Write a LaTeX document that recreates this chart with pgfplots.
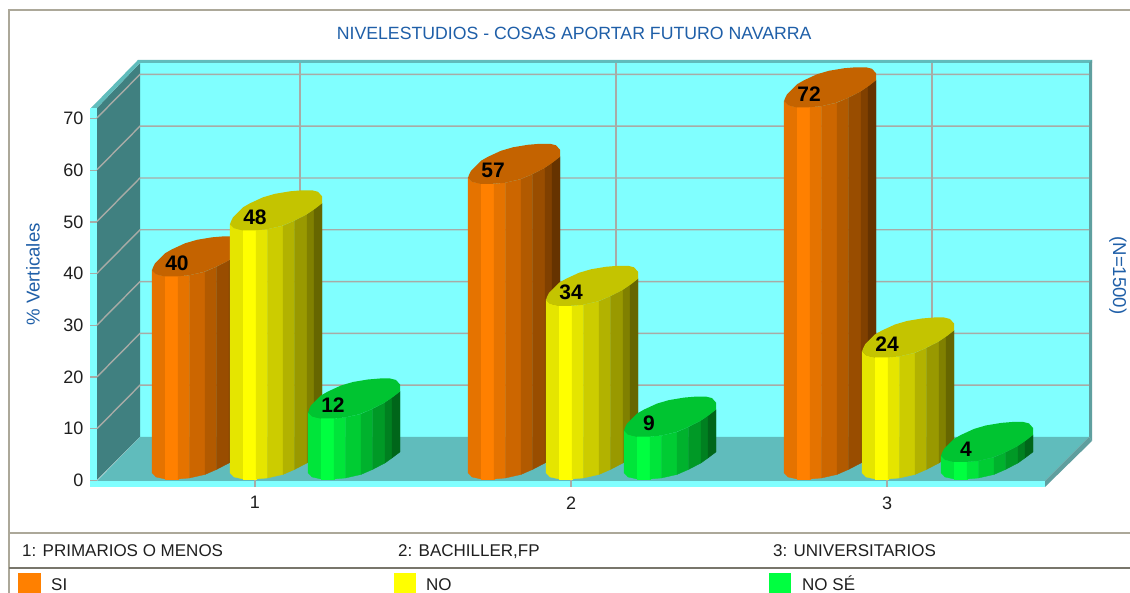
\documentclass[border=0pt]{standalone}
\usepackage{fontspec}
\setmainfont{Liberation Sans}
\usepackage{pgfplots}
\pgfplotsset{compat=1.18}

\definecolor{wallcyan}{HTML}{80FFFF}
\definecolor{floorteal}{HTML}{60BCBC}
\definecolor{sidewall}{HTML}{408080}
\definecolor{edgeteal}{HTML}{5F9F9F}
\definecolor{gridgray}{HTML}{A8ABA6}
\definecolor{framegray}{HTML}{ACA899}
\definecolor{titleblue}{HTML}{1F5FA8}
\definecolor{cSI}{HTML}{FF8000}
\definecolor{cNO}{HTML}{FFFF00}
\definecolor{cNS}{HTML}{00FF40}

% shapes are typed in reference pixels, y down from the top
\pgfplotsset{px/.style={y filter/.expression={(480.5-y)/5.17}}}
\newcommand{\panel}[2]{\addplot[px,fill=#1,draw=none] coordinates {#2} -- cycle;}
\newcommand{\pxline}[2]{\addplot[px,draw=#1,line width=1.4pt] coordinates {#2};}
\newcommand{\gridrow}[2]{\addplot[px,draw=gridgray,line width=1.4pt] coordinates {(97,#2) (140,#1) (1089,#1)};}

% one shaded band of a cylinder: left, height, colour, u0, arc0, u1, arc1
\newcommand{\band}[7]{\addplot[fill=#3,draw=#3,line width=0.3pt]
  table[row sep=\\,x expr=\thisrow{u}+#1,y expr=\thisrow{k}*#2+1.45+\thisrow{a}/5.17]
  {u a k\\ #4 #5 0\\ #4 #5 1\\ #6 #7 1\\ #6 #7 0\\} -- cycle;}

% cylinder: left edge in pixels, drawn height, base colour, printed value
\newcommand{\cyl}[4]{%
  \band{#1}{#2}{#3!90!black}{0}{0}{4}{-4}
  \band{#1}{#2}{#3!90!black}{4}{-4}{13}{-6}
  \band{#1}{#2}{#3}{13}{-6}{26}{-6}
  \band{#1}{#2}{#3!90!black}{26}{-6}{37.5}{-5}
  \band{#1}{#2}{#3!80!black}{37.5}{-5}{53}{-1.5}
  \band{#1}{#2}{#3!70!black}{53}{-1.5}{64.5}{3.5}
  \band{#1}{#2}{#3!60!black}{64.5}{3.5}{77}{10}
  \band{#1}{#2}{#3!50!black}{77}{10}{84}{15}
  \band{#1}{#2}{#3!40!black}{84}{15}{92}{21}
  \addplot[fill=#3!77!black,draw=none]
    table[row sep=\\,x expr=\thisrow{u}+#1,y expr=#2+1.45+\thisrow{a}/5.17]
    {u a\\ 0 0\\ 1 3\\ 3 7\\ 8 12\\ 13 17\\ 20 21\\ 33 27\\ 45 30.5\\ 60 33\\ 72 34\\
     82 34\\ 88 32.5\\ 92 28\\ 92 21\\ 85 15.5\\ 76 9.5\\ 63 3\\ 52 -1.5\\ 37 -5\\
     25 -6\\ 12 -6\\ 4 -4\\} -- cycle;
  \addplot[only marks,mark=none,nodes near coords,point meta=explicit symbolic]
    table[row sep=\\,meta=m,x expr=25+#1,y expr=#2+1.45+7/5.17] {m\\ #4\\};
}

\begin{document}
\begin{tikzpicture}
\useasboundingbox (0,0) rectangle (1130pt,593pt);
\fill[white] (0,0) rectangle (1130pt,593pt);
\begin{axis}[
    at={(90pt,106pt)},
    anchor=south west,
    scale only axis,
    width=955pt,
    height=378.75pt,
    xmin=90, xmax=1045,
    ymin=-1.26, ymax=72,
    clip=false,
    axis on top,
    axis line style={draw=none},
    no markers,
    xtick={255,571,887},
    xticklabels={1,2,3},
    ytick={0,10,20,30,40,50,60,70},
    xtick pos=bottom,
    ytick pos=left,
    tick align=inside,
    major tick length=7pt,
    tick style={gridgray,line width=1.4pt},
    /pgf/number format/assume math mode=true,
    tick label style={font=\fontsize{18}{21}\selectfont,text=black!88},
    xticklabel style={yshift=-6pt},
    yticklabel style={xshift=-3pt},
    title={NIVELESTUDIOS - COSAS APORTAR FUTURO NAVARRA},
    every axis title/.style={at={(rel axis cs:0.507,1)},anchor=center,yshift=75pt,
      font=\fontsize{17.7}{20}\selectfont,text=titleblue},
    ylabel={\% Verticales},
    every axis y label/.style={at={(rel axis cs:0,0.561)},xshift=-57pt,rotate=90,anchor=center,
      font=\fontsize{18.6}{22}\selectfont,text=titleblue},
    every node near coord/.style={anchor=center,font=\fontsize{21}{25}\selectfont\bfseries,text=black},
]
% room
\panel{wallcyan}{(140,63) (1089,63) (1089,437) (140,437)}
\panel{sidewall}{(97,108) (140,63) (140,437) (97,480)}
\panel{floorteal}{(97,481) (140,437) (1089,437) (1045,481)}
\panel{floorteal}{(91,108) (138,60) (1092,60) (1092,63) (140,63) (97,108)}
\panel{edgeteal}{(1089,63) (1092,60) (1092,441) (1089,437)}
\panel{edgeteal}{(1045,481) (1089,437) (1092,441) (1045,487)}
\panel{wallcyan}{(90,108) (97,108) (97,487) (90,487)}
\panel{wallcyan}{(90,481) (1045,481) (1045,487) (90,487)}
% grid
\gridrow{385.2}{428.7}
\gridrow{333.4}{376.9}
\gridrow{281.6}{325.1}
\gridrow{229.8}{273.3}
\gridrow{178.0}{221.5}
\gridrow{126.2}{169.7}
\gridrow{74.4}{117.9}
\pxline{gridgray}{(300,63) (300,437)}
\pxline{gridgray}{(616,63) (616,437)}
\pxline{gridgray}{(932,63) (932,437)}
% cylinders: heights, labels as printed
\cyl{152}{39.2}{cSI}{40}
\cyl{230}{48.1}{cNO}{48}
\cyl{308}{11.7}{cNS}{12}
\cyl{468}{57.1}{cSI}{57}
\cyl{546}{33.5}{cNO}{34}
\cyl{624}{8.2}{cNS}{9}
\cyl{784}{71.9}{cSI}{72}
\cyl{862}{23.5}{cNO}{24}
\cyl{941}{3.3}{cNS}{4}
% frame and legend rules
\pxline{framegray}{(9,593) (9,10) (1130,10)}
\pxline{framegray}{(9,533) (1130,533)}
\pxline{framegray!70!black}{(9,568) (1130,568)}
% legend swatches
\panel{cSI}{(18,573) (41,573) (41,593) (18,593)}
\panel{cNO}{(394,573) (416,573) (416,593) (394,593)}
\panel{cNS}{(769,573) (791,573) (791,593) (769,593)}
\end{axis}
\tikzset{lab/.style={inner sep=0pt,font=\fontsize{17}{20}\selectfont,text=black!88}}
\node[rotate=-90,anchor=center,inner sep=0pt,font=\fontsize{18.6}{22}\selectfont,text=titleblue] at (1118pt,317.5pt) {(N=1500)};
\node[lab,anchor=base west] at (22pt,36pt) {1: PRIMARIOS O MENOS};
\node[lab,anchor=base west] at (398pt,36pt) {2: BACHILLER,FP};
\node[lab,anchor=base west] at (773pt,36pt) {3: UNIVERSITARIOS};
\node[lab,anchor=base west] at (51pt,2.5pt) {SI};
\node[lab,anchor=base west] at (426pt,2.5pt) {NO};
\node[lab,anchor=base west] at (802pt,2.5pt) {NO SÉ};
\end{tikzpicture}
\end{document}
